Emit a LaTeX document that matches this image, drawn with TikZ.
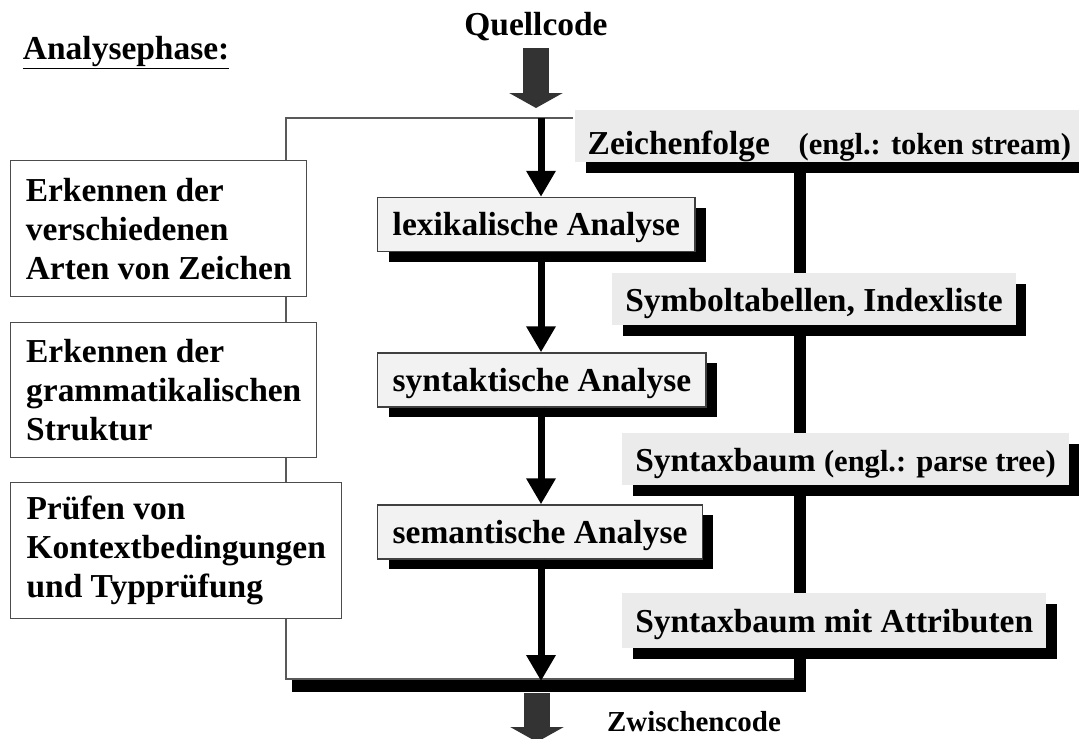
\documentclass[tikz,border=0pt]{standalone}
\usepackage{fontspec}
\setmainfont{Liberation Serif}
\usetikzlibrary{arrows.meta,shadows,calc}
\newcommand\englsz[1]{{\fontsize{21.7pt}{25pt}\selectfont #1}}

\begin{document}
\begin{tikzpicture}[x=0.025cm, y=-0.025cm,
  every node/.style={font=\bfseries\fontsize{23.8pt}{27.7pt}\selectfont, text=black},
  sidebox/.style={draw=black!70, line width=1pt, fill=white, align=left,
    inner sep=0pt, anchor=north west},
  stagebox/.style={draw=black!75, line width=1pt, fill=black!5,
    inner xsep=0.375cm, inner ysep=0pt, minimum height=1.35cm,
    text height=16.2pt, text depth=0pt, anchor=west,
    drop shadow={shadow xshift=0.275cm, shadow yshift=-0.25cm, fill=black, opacity=1}},
  databox/.style={fill=black!8, inner xsep=0.325cm, inner ysep=0pt,
    minimum height=1.3cm, text height=17.5pt, text depth=0pt, anchor=west,
    drop shadow={shadow xshift=0.26cm, shadow yshift=-0.27cm, fill=black, opacity=1}},
  flow/.style={line width=0.175cm, -{Triangle[width=0.7cm,length=0.65cm]}},
  trunk/.style={line width=0.3cm},
  bigarrow/.style={line width=0.65cm, draw=black!80, -{Triangle[width=1.325cm,length=0.375cm]}},
  frameline/.style={draw=black!65, line width=0.9pt}]

\fill[white] (0,0) rectangle (1079,738);
\useasboundingbox (0,0) rectangle (1079,738);

% helper coordinates
\coordinate (ftop) at (573,118);
\coordinate (fbot) at (286,679);
\coordinate (fend) at (795,679);
\coordinate (ax) at (541,0);
\coordinate (tx) at (800,0);
\coordinate (barend) at (292,686);
\coordinate (bartop) at (541,681);

% thin frame around the phase (drawn first, boxes sit on it)
\draw[frameline] (ftop) -| (fbot) -- (fend);

% headings
\node[anchor=base west] (title) at (18,59) {\underline{Analysephase:}};
\node[anchor=base] (src) at (536,35) {Quellcode};
\node[anchor=base, font=\bfseries\fontsize{20.6pt}{24pt}\selectfont] (ir) at (694,731) {Zwischencode};

% left column: tasks of the phases
\node[sidebox, minimum width=7.4cm, minimum height=3.4cm] (k1) at (10,160)
  {Erkennen der\\verschiedenen\\Arten von Zeichen};
\node[sidebox, minimum width=7.65cm, minimum height=3.375cm] (k2) at (10,322)
  {Erkennen der\\grammatikalischen\\Struktur};
\node[sidebox, minimum width=8.275cm, minimum height=3.4cm] (k3) at (10,482)
  {Prüfen von\\Kontextbedingungen\\und Typprüfung};

% middle column: analysis stages
\node[stagebox] (lex) at (377,224.5) {lexikalische Analyse};
\node[stagebox] (syn) at (377,380) {syntaktische Analyse};
\node[stagebox] (sem) at (377,532) {semantische Analyse};

% right column: data structures
\node[databox, inner xsep=0.25cm, minimum width=12.7cm, text height=27pt, align=left] (zf) at (575,136)
  {Zeichenfolge\hspace{0.72cm}\englsz{(engl.: token stream)}};
\node[databox] (sym) at (612,299) {Symboltabellen, Indexliste};
\node[databox] (st) at (622,459) {Syntaxbaum \englsz{(engl.: parse tree)}};
\node[databox, minimum height=1.375cm] (sa) at (622,620.5) {Syntaxbaum mit Attributen};

% data trunk and collecting bar
\draw[trunk] (zf.south -| tx) -- (sym.north -| tx);
\draw[trunk] (sym.south -| tx) -- (st.north -| tx);
\draw[trunk] (st.south -| tx) -- (sa.north -| tx);
\draw[trunk] (sa.south -| tx) |- (barend);

% control flow through the stages
\draw[flow] (ax |- ftop) -- (ax |- lex.north);
\draw[flow] (ax |- lex.south) -- (ax |- syn.north);
\draw[flow] (ax |- syn.south) -- (ax |- sem.north);
\draw[flow] (ax |- sem.south) -- (bartop);

% input and output arrows
\draw[bigarrow] ($(src.base)+(0,13)$) -- ($(ax |- ftop)+(-5,-10)$);
\draw[bigarrow] ($(barend -| ax)+(-4,7)$) -- ($(barend -| ax)+(-4,56)$);
\end{tikzpicture}
\end{document}
